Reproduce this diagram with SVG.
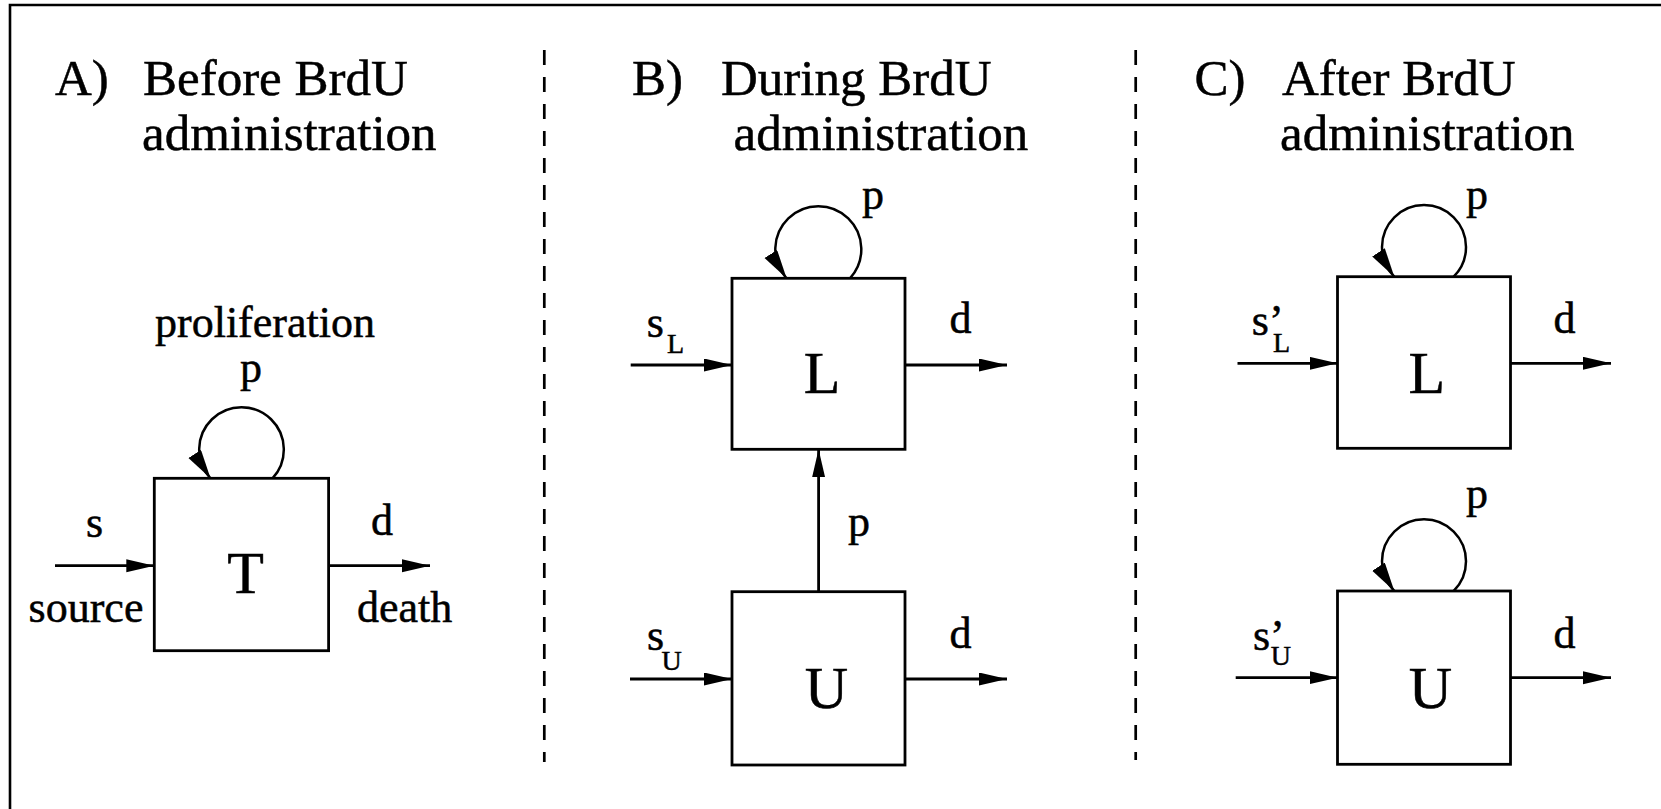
<svg xmlns="http://www.w3.org/2000/svg" width="1661" height="809" viewBox="0 0 1661 809">
<style>
text{font-family:"Liberation Serif","Times New Roman",serif;fill:#000;stroke:#000;stroke-width:0.5}
.title{font-size:51px}
.lab{font-size:44px}
.big{font-size:60px;text-anchor:middle}
.sub{font-size:28px}
.box{fill:#fff;stroke:#000;stroke-width:2.8}
.edge{fill:none;stroke:#000;stroke-width:2.8}
.loop{fill:none;stroke:#000;stroke-width:2.5}
.sep{fill:none;stroke:#000;stroke-width:2.7;stroke-dasharray:15 12}
</style>
<defs>
<marker id="arr" markerUnits="userSpaceOnUse" markerWidth="30" markerHeight="14" refX="28" refY="6.5" orient="auto">
<path d="M0,0 L28,6.5 L0,13 Z" fill="#000"/>
</marker>
<marker id="larr" markerUnits="userSpaceOnUse" markerWidth="32" markerHeight="16" refX="29" refY="7.5" orient="57">
<path d="M0,0 L29,7.5 L0,15 Z" fill="#000"/>
</marker>
</defs>
<rect width="1661" height="809" fill="#fff"/>
<polyline points="10,809 10,5 1661,5" fill="none" stroke="#000" stroke-width="2.6"/>
<g id="separators">
<line class="sep" x1="544.3" y1="50" x2="544.3" y2="762"/>
<line class="sep" x1="1135.7" y1="50" x2="1135.7" y2="760"/>
</g>
<g id="titles">
<text class="title" x="55" y="95">A)</text>
<text class="title" x="143" y="95">Before BrdU</text>
<text class="title" x="142" y="150">administration</text>
<text class="title" x="632" y="95">B)</text>
<text class="title" x="721" y="95">During BrdU</text>
<text class="title" x="733.6" y="150">administration</text>
<text class="title" x="1194.6" y="95">C)</text>
<text class="title" x="1282" y="95">After BrdU</text>
<text class="title" x="1280" y="150">administration</text>
</g>
<g id="connectors">
<path class="loop" d="M272.5,478.3 A42.3,42.3 0 1 0 210.5,478.3" marker-end="url(#larr)"/>
<line class="edge" x1="55" y1="565.7" x2="154.3" y2="565.7" marker-end="url(#arr)"/>
<line class="edge" x1="328.6" y1="565.7" x2="430" y2="565.7" marker-end="url(#arr)"/>
<path class="loop" d="M850,278.3 A43,43 0 1 0 786.6,278.3" marker-end="url(#larr)"/>
<line class="edge" x1="630.7" y1="365" x2="732" y2="365" marker-end="url(#arr)"/>
<line class="edge" x1="905" y1="365" x2="1007" y2="365" marker-end="url(#arr)"/>
<line class="edge" x1="818.6" y1="591.7" x2="818.6" y2="449.3" marker-end="url(#arr)"/>
<line class="edge" x1="630" y1="679" x2="732" y2="679" marker-end="url(#arr)"/>
<line class="edge" x1="905" y1="679" x2="1007" y2="679" marker-end="url(#arr)"/>
<path class="loop" d="M1453.7,276.7 A42,42 0 1 0 1394.3,276.7" marker-end="url(#larr)"/>
<line class="edge" x1="1237.5" y1="363.3" x2="1337.5" y2="363.3" marker-end="url(#arr)"/>
<line class="edge" x1="1510.5" y1="363.3" x2="1611" y2="363.3" marker-end="url(#arr)"/>
<path class="loop" d="M1453.7,591 A42,42 0 1 0 1394.3,591" marker-end="url(#larr)"/>
<line class="edge" x1="1235.7" y1="677.7" x2="1337.5" y2="677.7" marker-end="url(#arr)"/>
<line class="edge" x1="1510.5" y1="677.7" x2="1611" y2="677.7" marker-end="url(#arr)"/>
</g>
<g id="nodeT">
<rect class="box" x="154.3" y="478.3" width="174.3" height="172.4"/>
<text class="big" x="245.7" y="593.3">T</text>
</g>
<g id="labelsA">
<text class="lab" x="155" y="336.7">proliferation</text>
<text class="lab" x="240" y="382">p</text>
<text class="lab" x="86" y="536.7">s</text>
<text class="lab" x="371" y="535">d</text>
<text class="lab" x="28.6" y="621.7">source</text>
<text class="lab" x="357" y="621.7">death</text>
</g>
<g id="nodeBL">
<rect class="box" x="732" y="278.3" width="173" height="171"/>
<text class="big" x="822" y="393">L</text>
</g>
<g id="nodeBU">
<rect class="box" x="732" y="591.7" width="173" height="173.3"/>
<text class="big" x="826.5" y="708">U</text>
</g>
<g id="labelsB">
<text class="lab" x="862" y="209">p</text>
<text class="lab" x="646.7" y="336.7">s<tspan class="sub" x="667" y="353.3">L</tspan></text>
<text class="lab" x="949.6" y="333">d</text>
<text class="lab" x="848" y="536">p</text>
<text class="lab" x="647" y="650">s<tspan class="sub" x="661.4" y="670">U</tspan></text>
<text class="lab" x="949.6" y="648">d</text>
</g>
<g id="nodeCL">
<rect class="box" x="1337.5" y="276.7" width="173" height="171.6"/>
<text class="big" x="1426.8" y="393">L</text>
</g>
<g id="nodeCU">
<rect class="box" x="1337.5" y="591" width="173" height="173.3"/>
<text class="big" x="1430.4" y="708">U</text>
</g>
<g id="labelsC">
<text class="lab" x="1466" y="209">p</text>
<text class="lab" x="1251.8" y="335">s’<tspan class="sub" x="1273" y="351.7">L</tspan></text>
<text class="lab" x="1553.6" y="333">d</text>
<text class="lab" x="1466" y="508">p</text>
<text class="lab" x="1252.9" y="650">s’<tspan class="sub" x="1270.7" y="665">U</tspan></text>
<text class="lab" x="1553.6" y="648.3">d</text>
</g>
</svg>
